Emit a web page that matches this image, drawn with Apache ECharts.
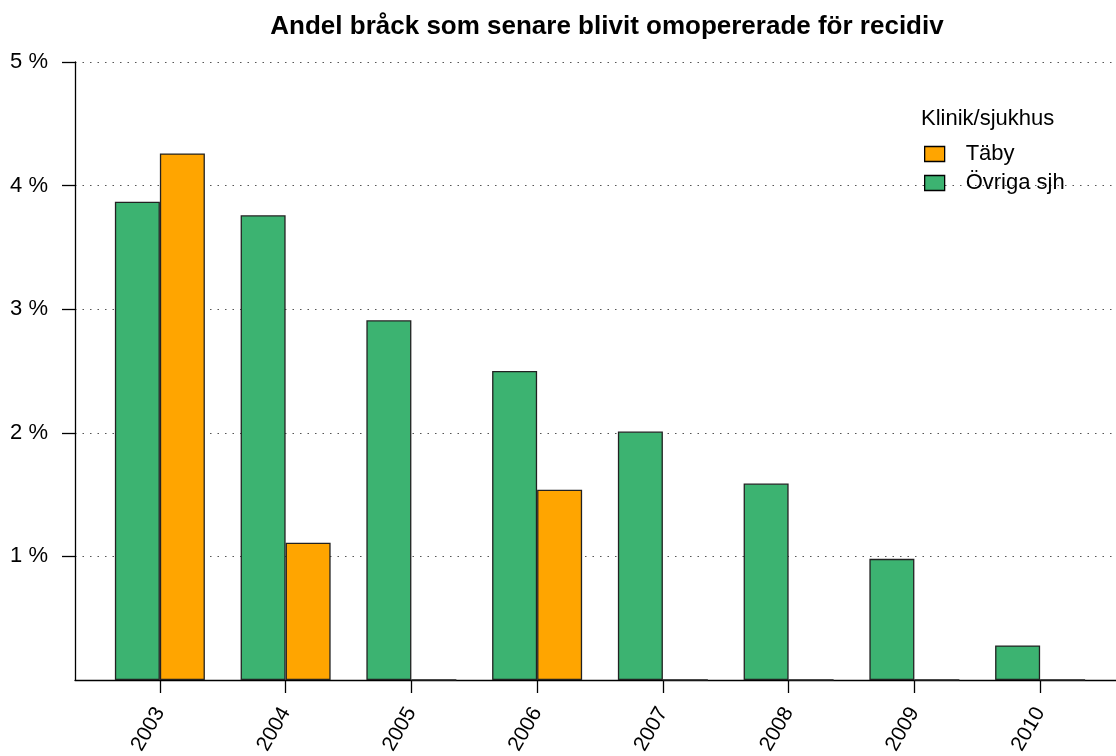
<!DOCTYPE html>
<html>
<head>
<meta charset="utf-8">
<script src="https://cdn.jsdelivr.net/npm/echarts@6/dist/echarts.min.js"></script>
<style>
  html, body { margin: 0; padding: 0; background: #fff; }
  #chart { width: 1116px; height: 756px; }
</style>
</head>
<body>
<div id="chart"></div>
<script>
const years = ['2003', '2004', '2005', '2006', '2007', '2008', '2009', '2010']
const ovriga = [3.87, 3.76, 2.91, 2.50, 2.01, 1.59, 0.98, 0.28]
const taby = [4.26, 1.11, 0, 1.54, 0, 0, 0, 0]
const yTicks = [1, 2, 3, 4, 5]

const font = 'Liberation Sans, Arial, Helvetica, sans-serif'
const green = '#3CB371'
const orange = '#FFA500'

const chart = echarts.init(document.getElementById('chart'))

const option = {
  animation: false,
  backgroundColor: '#fff',
  textStyle: { fontFamily: font },
  title: [
    {
      text: 'Andel bråck som senare blivit omopererade för recidiv',
      left: 602,
      top: 9,
      textAlign: 'center',
      textStyle: { fontSize: 26, fontWeight: 'bold', color: '#000', fontFamily: font }
    },
    {
      text: 'Klinik/sjukhus',
      left: 916,
      top: 103,
      textStyle: { fontSize: 22, fontWeight: 'normal', color: '#000', fontFamily: font }
    }
  ],
  legend: {
    orient: 'vertical',
    left: 919,
    top: 138,
    icon: 'rect',
    itemWidth: 20,
    itemHeight: 15,
    itemGap: 7,
    data: ['Täby', 'Övriga sjh'],
    textStyle: { fontSize: 22, color: '#000', padding: [0, 0, 0, 16], fontFamily: font },
    itemStyle: { borderColor: '#000', borderWidth: 1.3 }
  },
  grid: [
    { left: 97, width: 1006, top: 62, height: 618, outerBoundsMode: 'none', containLabel: false },
    { left: 75, right: 0, top: 62, height: 618, outerBoundsMode: 'none', containLabel: false }
  ],
  xAxis: [
    {
      type: 'category',
      gridIndex: 0,
      data: years,
      axisLine: { show: false },
      axisTick: { show: true, alignWithLabel: true, length: 13, lineStyle: { color: '#000', width: 1.3 } },
      axisLabel: { rotate: 60, fontSize: 21, color: '#000', margin: 29, fontFamily: font },
      splitLine: { show: false }
    },
    {
      type: 'value',
      gridIndex: 1,
      min: 0,
      max: 1,
      axisLine: { show: true, onZero: false, lineStyle: { color: '#000', width: 1.3 } },
      axisTick: { show: false },
      axisLabel: { show: false },
      splitLine: { show: false }
    }
  ],
  yAxis: [
    {
      type: 'value',
      gridIndex: 0,
      min: 0,
      max: 5,
      interval: 1,
      show: false
    },
    {
      type: 'value',
      gridIndex: 1,
      min: 0,
      max: 5,
      interval: 1,
      axisLine: { show: true, lineStyle: { color: '#000', width: 1.3 } },
      axisTick: { show: true, length: 13, customValues: yTicks, lineStyle: { color: '#000', width: 1.3 } },
      axisLabel: {
        customValues: yTicks,
        formatter: v => v + ' %',
        fontSize: 22,
        color: '#000',
        margin: 27,
        fontFamily: font
      },
      splitLine: { show: true, lineStyle: { color: '#555', width: 1.2, type: [1.5, 6] } }
    }
  ],
  series: [
    {
      name: 'Övriga sjh',
      type: 'bar',
      xAxisIndex: 0,
      yAxisIndex: 0,
      data: ovriga,
      barWidth: 45,
      barGap: '0%',
      itemStyle: { color: green, borderColor: '#222', borderWidth: 1.3 }
    },
    {
      name: 'Täby',
      type: 'bar',
      xAxisIndex: 0,
      yAxisIndex: 0,
      data: taby,
      barWidth: 45,
      barGap: '0%',
      itemStyle: { color: orange, borderColor: '#222', borderWidth: 1.3 }
    }
  ]
}

chart.setOption(option)
</script>
</body>
</html>
